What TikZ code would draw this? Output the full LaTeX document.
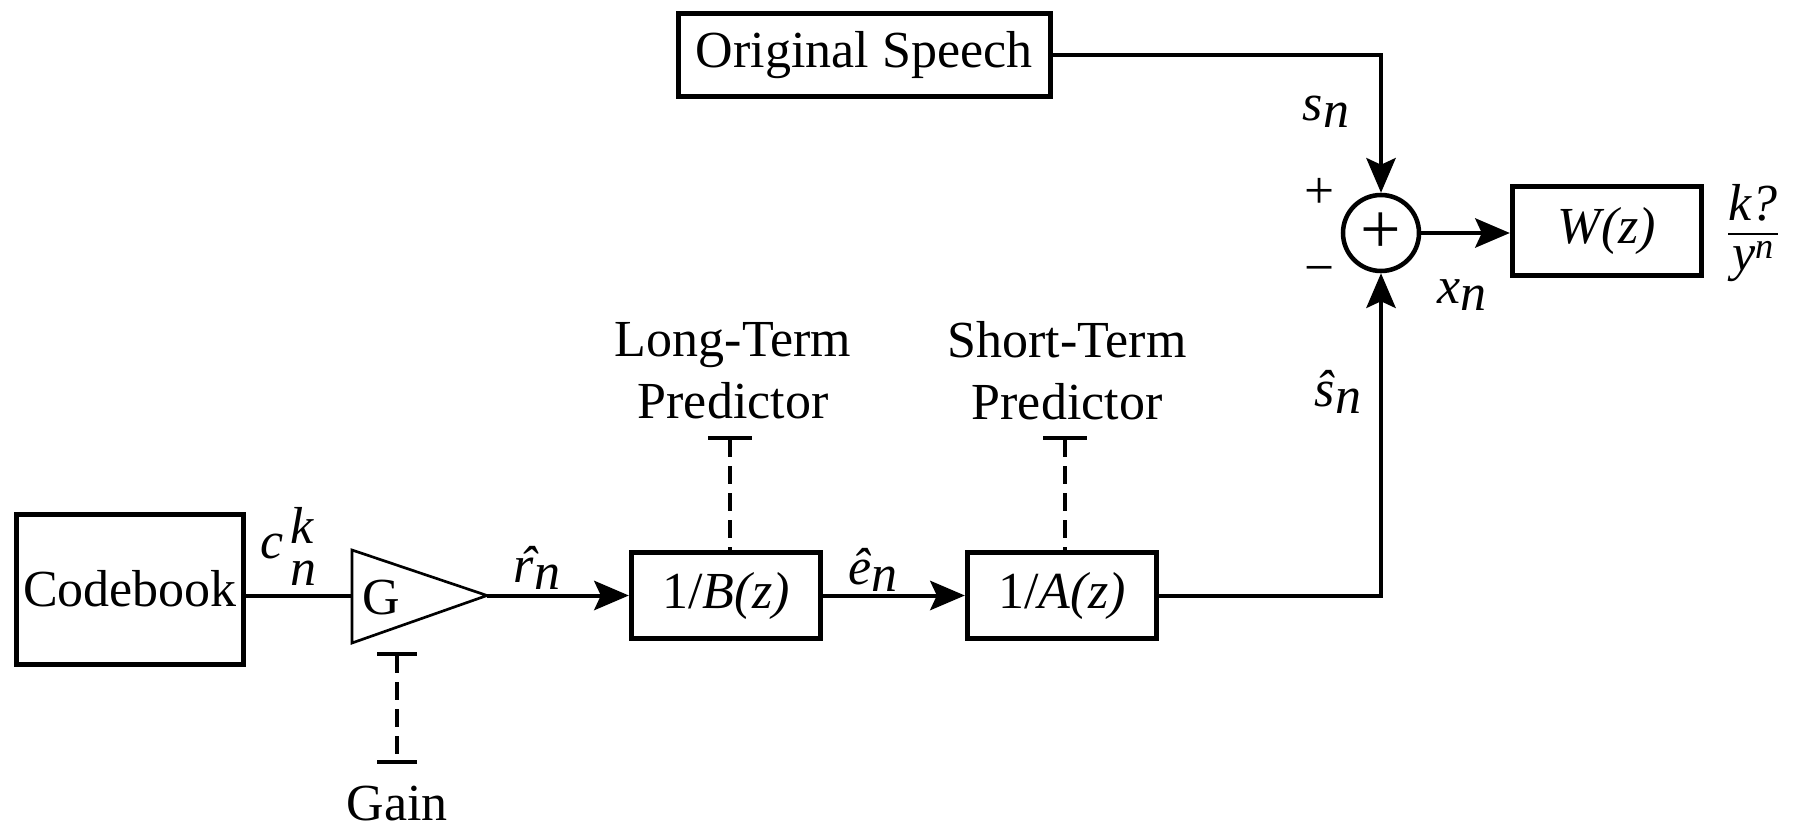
\documentclass[tikz,border=0pt]{standalone}
\usepackage{amsmath}
\usepackage{fontspec}
\setmainfont{Liberation Serif}
\usetikzlibrary{arrows.meta}

\newcommand{\lowsub}[2]{\textit{#1}\raisebox{-0.3ex}{\textit{#2}}}

\tikzset{every picture/.style={line width=0.75pt}}

\begin{document}
\begin{tikzpicture}[x=0.75pt,y=0.75pt,yscale=-1,xscale=1,
	every node/.style={font=\fontsize{39}{46.5}\selectfont},
	blockbox/.style={draw, line width=3.75pt, inner sep=0pt},
	flow/.style={line width=3pt, -{Stealth[length=26pt,width=22pt,inset=5pt]}},
	wire/.style={line width=3pt},
	ctrl/.style={line width=3pt, dash pattern=on 13.5pt off 6.75pt},
	sumnode/.style={draw, circle, line width=3.4pt, minimum size=57pt, inner sep=0pt, font=\fontsize{54}{54}\selectfont},
	signlabel/.style={font=\fontsize{40}{40}\selectfont}]
	\useasboundingbox (0,0) rectangle (1793,824);

	%Shape: Rectangle [Codebook]
	\node[blockbox, minimum width=170pt, minimum height=112.5pt] (code) at (130,589) {Codebook};
	%Shape: Rectangle [Original Speech]
	\node[blockbox, minimum width=279pt, minimum height=62pt] (orig) at (864,55) {Original Speech};
	%Shape: Rectangle [1/B(z)]
	\node[blockbox, minimum width=142pt, minimum height=65pt] (lbox) at (726,595.5) {1/\textit{B(z)}};
	%Shape: Rectangle [1/A(z)]
	\node[blockbox, minimum width=142pt, minimum height=65pt] (abox) at (1062,595.5) {1/\textit{A(z)}};
	%Shape: Rectangle [W(z)]
	\node[blockbox, minimum width=142pt, minimum height=67pt] (wbox) at (1607,231) {\textit{W(z)}};
	%Shape: Circle [sum]
	\node[sumnode] (sum) at (1381,233) {+};

	%Shape: Triangle [gain]
	\coordinate (gin) at (352,595.5);
	\coordinate (gtip) at (487,595.5);
	\draw[line width=2pt, line join=miter] (352,550) -- (gtip) -- (352,643) -- cycle;
	\node (g) at (381,598) {G};

	% Connectors
	\draw[wire] (gin -| code.east) -- (gin);
	\draw[flow] (gtip) -- (lbox);
	\draw[flow] (lbox) -- (abox);
	\draw[flow] (abox) -| (sum);
	\draw[flow] (orig) -| (sum);
	\draw[flow] (sum.east) -- (sum.east -| wbox.west);

	% Control lines
	\coordinate (gtop) at (397,652);
	\coordinate (gbot) at (397,764);
	\draw[ctrl, {Bar[width=30pt]}-{Bar[width=30pt]}] (gtop) -- (gbot);
	\coordinate (ltp) at (730,436);
	\draw[ctrl, {Bar[width=33pt]}-] (ltp) -- (ltp |- lbox.north);
	\coordinate (stp) at (1065,436);
	\draw[ctrl, {Bar[width=33pt]}-] (stp) -- (stp |- abox.north);

	% Text Node
	\node[inner sep=0pt] (gain) at (397,804) {Gain};
	% Text Node
	\node[align=center] (ltpl) at (733,371) {Long-Term\\Predictor};
	% Text Node
	\node[align=center] (stpl) at (1067,371) {Short-Term\\Predictor};
	% Text Node
	\node[inner sep=0pt] (ckn) at (288.5,546.5) {\textit{c}\hspace{0.13em}\makebox[0pt][l]{\raisebox{0.29em}{\textit{k}}}\raisebox{-0.52em}{\textit{n}}};
	% Text Node
	\node (rn) at (537,568) {\textit{\makebox[0pt][l]{\hspace{0.1em}ˆ}r}\raisebox{-0.3ex}{\textit{n}}};
	% Text Node
	\node (en) at (873,570) {\lowsub{\^{e}}{n}};
	% Text Node
	\node (sn) at (1326,112) {\lowsub{s}{n}};
	% Text Node
	\node (shat) at (1338,392) {\lowsub{\^{s}}{n}};
	% Text Node
	\node (xn) at (1462,295) {\lowsub{x}{n}};
	% Text Node
	\node (plus) [signlabel] at (1320,193) {+};
	% Text Node
	\node (minus) [signlabel] at (1320,276) {−};
	% Text Node
	\node (wout) at (1753,233) {$\genfrac{}{}{1.6pt}{0}{\mbox{\itshape k?}}{\mbox{\itshape y\textsuperscript{n}}}$};

\end{tikzpicture}
\end{document}
